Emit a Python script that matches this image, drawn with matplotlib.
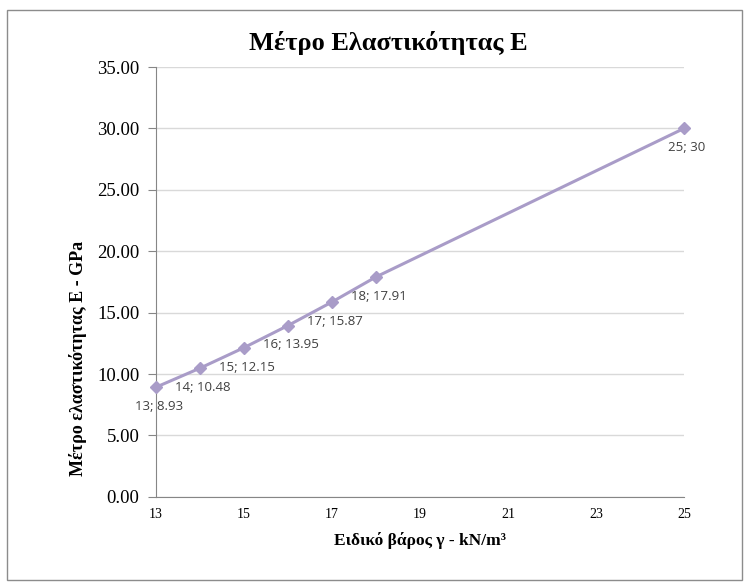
import matplotlib.pyplot as plt
from matplotlib.patches import Rectangle

# Specific weight (kN/m^3) vs modulus of elasticity (GPa)
gamma = [13, 14, 15, 16, 17, 18, 25]
modulus = [8.93, 10.48, 12.15, 13.95, 15.87, 17.91, 30]
labels = ["13; 8.93", "14; 10.48", "15; 12.15", "16; 13.95", "17; 15.87", "18; 17.91", "25; 30"]

x_ticks = [13, 15, 17, 19, 21, 23, 25]
y_ticks = [0, 5, 10, 15, 20, 25, 30, 35]

line_color = "#A99CC8"
serif = ["Liberation Serif", "DejaVu Serif"]

fig = plt.figure(figsize=(7.5, 5.88), dpi=100)
ax = fig.add_axes([0.208, 0.155, 0.704, 0.731])

# chart frame
fig.patches.append(Rectangle((7 / 750, 8 / 588), 735 / 750, 570 / 588, transform=fig.transFigure,
                             fill=False, edgecolor="#8C8C8C", linewidth=1.0))

ax.plot(gamma, modulus, color=line_color, linewidth=2.2, marker="D", markersize=6,
        markerfacecolor=line_color, markeredgecolor=line_color, zorder=3, clip_on=False)

for x, y, txt in zip(gamma, modulus, labels):
    ax.annotate(txt, xy=(x, y), xytext=(2, -14), textcoords="offset points",
                ha="center", va="center", fontsize=9.5, color="#404040", family="Open Sans")

ax.set_xlim(13, 25)
ax.set_ylim(0, 35)
ax.set_xticks(x_ticks)
ax.set_yticks(y_ticks)
ax.set_yticklabels([f"{v:.2f}" for v in y_ticks], fontsize=13.5, family=serif)
ax.set_xticklabels([str(v) for v in x_ticks], fontsize=10, family=serif)

ax.grid(axis="y", color="#D9D9D9", linewidth=1.0)
ax.set_axisbelow(True)
for side in ["top", "right"]:
    ax.spines[side].set_visible(False)
for side in ["left", "bottom"]:
    ax.spines[side].set_color("#868686")
ax.tick_params(axis="y", length=6, color="#868686", pad=6)
ax.tick_params(axis="x", length=0, pad=8)

ax.set_title("Μέτρο Ελαστικότητας Ε", fontsize=19, fontweight="bold", family=serif, pad=12, x=0.44)
ax.set_xlabel("Ειδικό βάρος γ - kN/m³", fontsize=12.5, fontweight="bold", family=serif, labelpad=8)
ax.set_ylabel("Μέτρο ελαστικότητας Ε - GPa", fontsize=13, fontweight="bold", family=serif)
ax.yaxis.set_label_coords(-0.13, 0.323)

fig.savefig("out.png", dpi=100)
